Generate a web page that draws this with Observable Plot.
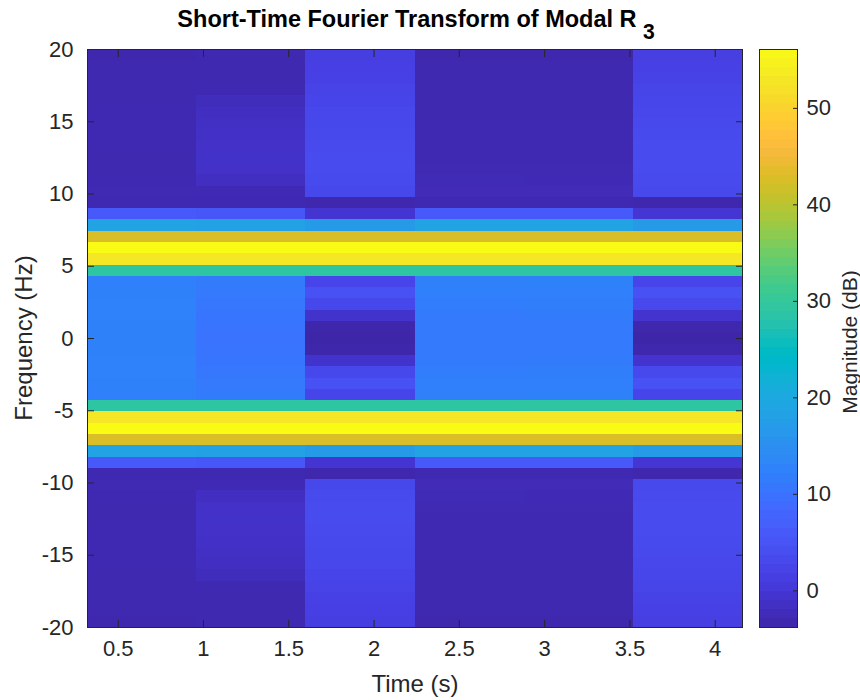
<!DOCTYPE html>
<html>
<head>
<meta charset="utf-8">
<script src="https://cdn.jsdelivr.net/npm/d3@7"></script>
<script src="https://cdn.jsdelivr.net/npm/@observablehq/plot@0.6"></script>
<style>
  body { margin: 0; background: #fff; font-family: "Liberation Sans", Arial, sans-serif; }
  #fig { position: relative; width: 860px; height: 700px; overflow: hidden; background: #fff; }
  #fig svg { position: absolute; top: 0; }
  .lbl { position: absolute; color: #262626; white-space: nowrap; line-height: 1; }
  .rot { transform: translate(-50%, -50%) rotate(-90deg); }
</style>
</head>
<body>
<div id="fig"></div>
<script>
// STFT frame centres (s) and frame hop; frequency bins (Hz) from +26 to -26 bin steps
const frameTimes = [0.64, 1.28, 1.92, 2.56, 3.20, 3.84];
const frameWidth = 0.64;
const binWidth = 0.78125;
const binHz = d3.range(26, -27, -1).map(k => k * binWidth);

// Magnitude (dB) per frame, listed from the top bin (+20.3 Hz) down to the bottom bin (-20.3 Hz)
const mag064 = [
  -3.3,-3.3,-3.2,-3.2,-3.1,-3.1,-3.0,-3.0,-3.0,-3.0,-3.1,-3.1,-3.0,-2.9,
  -3.0,
  6.0,18.6,42.5,56.1,53.0,29.0,
  12.0,12.4,12.6,12.5,12.4,12.3,12.4,12.5,12.6,12.4,12.0,
  29.0,53.0,56.1,42.5,18.6,6.0,
  -3.0,
  -2.9,-3.0,-3.1,-3.1,-3.0,-3.0,-3.0,-3.0,-3.1,-3.1,-3.2,-3.2,-3.3,-3.3
];
const mag128 = [
  -3.2,-3.2,-3.1,-3.1,-3.0,-2.2,-1.8,-1.6,-1.4,-1.2,-1.0,-1.2,-1.8,-2.8,
  -3.0,
  5.5,18.2,42.5,56.1,53.0,29.0,
  11.5,11.0,10.8,10.5,10.3,10.2,10.3,10.5,10.8,11.0,11.5,
  29.0,53.0,56.1,42.5,18.2,5.5,
  -3.0,
  -2.8,-1.8,-1.2,-1.0,-1.2,-1.4,-1.6,-1.8,-2.2,-3.0,-3.1,-3.1,-3.2,-3.2
];
const mag192 = [
  1.0,1.3,1.6,1.9,2.2,2.5,2.8,3.0,3.2,3.4,3.5,3.5,3.3,3.0,
  -3.4,
  -0.3,17.0,42.5,56.1,53.0,29.0,
  2.5,4.5,3.0,-0.8,-3.5,-3.8,-3.5,-0.8,3.0,4.5,2.5,
  29.0,53.0,56.1,42.5,17.0,-0.3,
  -3.4,
  3.0,3.3,3.5,3.5,3.4,3.2,3.0,2.8,2.5,2.2,1.9,1.6,1.3,1.0
];
const mag256 = [
  -3.3,-3.3,-3.2,-3.2,-3.2,-3.1,-3.1,-3.0,-3.0,-3.0,-3.0,-2.9,-2.7,-2.6,
  -3.0,
  6.0,18.6,42.5,56.1,53.0,29.0,
  12.2,12.0,11.6,11.3,11.2,11.1,11.2,11.3,11.6,12.0,12.2,
  29.0,53.0,56.1,42.5,18.6,6.0,
  -3.0,
  -2.6,-2.7,-2.9,-3.0,-3.0,-3.0,-3.0,-3.1,-3.1,-3.2,-3.2,-3.2,-3.3,-3.3
];
const mag320 = [
  -3.3,-3.3,-3.2,-3.2,-3.1,-3.1,-3.1,-3.0,-3.0,-3.0,-3.0,-2.9,-2.8,-2.6,
  -3.0,
  6.1,18.7,42.5,56.1,53.0,29.1,
  12.3,12.1,11.7,11.4,11.2,11.1,11.2,11.4,11.7,12.1,12.3,
  29.1,53.0,56.1,42.5,18.7,6.1,
  -3.0,
  -2.6,-2.8,-2.9,-3.0,-3.0,-3.0,-3.0,-3.1,-3.1,-3.1,-3.2,-3.2,-3.3,-3.3
];
const mag384 = [
  1.2,1.5,1.8,2.1,2.4,2.7,2.9,3.1,3.3,3.5,3.6,3.6,3.4,3.1,
  -3.4,
  -0.2,17.2,42.5,56.1,53.0,29.0,
  2.6,4.6,3.1,-0.7,-3.4,-3.7,-3.4,-0.7,3.1,4.6,2.6,
  29.0,53.0,56.1,42.5,17.2,-0.2,
  -3.4,
  3.1,3.4,3.6,3.6,3.5,3.3,3.1,2.9,2.7,2.4,2.1,1.8,1.5,1.2
];
const frames = [mag064, mag128, mag192, mag256, mag320, mag384];

// Axis ticks
const timeTicks = [0.5, 1, 1.5, 2, 2.5, 3, 3.5, 4];
const freqTicks = [-20, -15, -10, -5, 0, 5, 10, 15, 20];
const dbTicks = [0, 10, 20, 30, 40, 50];

// parula colormap (64 entries)
const parulaRGB = [
  [0.2422,0.1504,0.6603],[0.2504,0.1650,0.7076],[0.2578,0.1818,0.7511],[0.2647,0.1978,0.7952],
  [0.2706,0.2147,0.8364],[0.2751,0.2342,0.8710],[0.2783,0.2559,0.8991],[0.2803,0.2782,0.9221],
  [0.2813,0.3006,0.9414],[0.2810,0.3228,0.9579],[0.2795,0.3447,0.9717],[0.2760,0.3667,0.9829],
  [0.2699,0.3892,0.9906],[0.2602,0.4123,0.9952],[0.2440,0.4358,0.9988],[0.2206,0.4603,0.9973],
  [0.1963,0.4847,0.9892],[0.1834,0.5074,0.9798],[0.1786,0.5289,0.9682],[0.1764,0.5499,0.9520],
  [0.1687,0.5703,0.9359],[0.1540,0.5902,0.9218],[0.1460,0.6091,0.9079],[0.1380,0.6276,0.8973],
  [0.1248,0.6459,0.8883],[0.1113,0.6635,0.8763],[0.0952,0.6798,0.8598],[0.0689,0.6948,0.8394],
  [0.0297,0.7082,0.8163],[0.0036,0.7203,0.7917],[0.0067,0.7312,0.7660],[0.0433,0.7411,0.7394],
  [0.0964,0.7500,0.7120],[0.1408,0.7584,0.6842],[0.1717,0.7670,0.6554],[0.1938,0.7758,0.6251],
  [0.2161,0.7843,0.5923],[0.2470,0.7918,0.5567],[0.2906,0.7973,0.5188],[0.3406,0.8008,0.4789],
  [0.3909,0.8029,0.4354],[0.4456,0.8024,0.3909],[0.5044,0.7993,0.3480],[0.5616,0.7942,0.3045],
  [0.6174,0.7876,0.2612],[0.6720,0.7793,0.2227],[0.7242,0.7698,0.1910],[0.7738,0.7598,0.1646],
  [0.8203,0.7498,0.1535],[0.8634,0.7406,0.1596],[0.9035,0.7330,0.1774],[0.9393,0.7288,0.2100],
  [0.9728,0.7298,0.2394],[0.9956,0.7434,0.2371],[0.9970,0.7659,0.2199],[0.9952,0.7893,0.2028],
  [0.9892,0.8136,0.1885],[0.9786,0.8386,0.1766],[0.9676,0.8639,0.1643],[0.9610,0.8890,0.1537],
  [0.9597,0.9135,0.1423],[0.9628,0.9373,0.1265],[0.9691,0.9606,0.1064],[0.9769,0.9839,0.0805]
];
const parula = d3.piecewise(d3.interpolateRgb,
  parulaRGB.map(([r, g, b]) => d3.rgb(r * 255, g * 255, b * 255).formatHex()));

const cells = [];
frames.forEach((vals, j) => vals.forEach((v, i) => cells.push({t: frameTimes[j], f: binHz[i], v})));
const clim = d3.extent(cells, d => d.v);

const ink = "#262626";
const font = "'Liberation Sans', Arial, sans-serif";
const colorScale = {type: "linear", domain: clim, interpolate: parula};

// Spectrogram
const main = Plot.plot({
  width: 760, height: 700,
  marginLeft: 87, marginRight: 18, marginTop: 49, marginBottom: 73,
  style: {fontFamily: font, fontSize: "22px", color: ink, background: "transparent"},
  x: {domain: [0.32, 4.16]},
  y: {domain: [-20, 20]},
  color: colorScale,
  marks: [
    Plot.rect(cells, {
      x1: d => d.t - frameWidth / 2, x2: d => d.t + frameWidth / 2,
      y1: d => d.f - binWidth / 2, y2: d => d.f + binWidth / 2,
      fill: "v", clip: true, shapeRendering: "crispEdges"
    }),
    Plot.frame({stroke: ink, strokeWidth: 1}),
    Plot.axisX(timeTicks, {anchor: "bottom", tickSize: -7, tickPadding: 20, tickFormat: d => String(d), label: null, stroke: ink}),
    Plot.axisX(timeTicks, {anchor: "top", tickSize: -7, tickFormat: () => "", label: null, stroke: ink}),
    Plot.axisY(freqTicks, {anchor: "left", tickSize: -7, tickPadding: 21, tickFormat: d => String(d), label: null, stroke: ink}),
    Plot.axisY(freqTicks, {anchor: "right", tickSize: -7, tickFormat: () => "", label: null, stroke: ink})
  ]
});
main.style.left = "0px";

// Colorbar: 64 discrete colormap steps over the colour limits
const steps = d3.range(64).map(i => {
  const lo = clim[0] + (clim[1] - clim[0]) * i / 64;
  const hi = clim[0] + (clim[1] - clim[0]) * (i + 1) / 64;
  return {lo, hi, mid: (lo + hi) / 2};
});
const bar = Plot.plot({
  width: 120, height: 700,
  marginLeft: 19, marginRight: 63, marginTop: 49, marginBottom: 73,
  style: {fontFamily: font, fontSize: "22px", color: ink, background: "transparent"},
  x: {domain: [0, 1], axis: null},
  y: {domain: clim},
  color: colorScale,
  marks: [
    Plot.rect(steps, {x1: 0, x2: 1, y1: "lo", y2: "hi", fill: "mid", shapeRendering: "crispEdges"}),
    Plot.frame({stroke: ink, strokeWidth: 1}),
    Plot.axisY(dbTicks, {anchor: "right", tickSize: -5, tickPadding: 14, tickFormat: d => String(d), label: null, stroke: ink})
  ]
});
bar.style.left = "740px";

const fig = document.getElementById("fig");
fig.append(main, bar);

function label(html, x, y, css, rotate) {
  const el = document.createElement("div");
  el.className = "lbl" + (rotate ? " rot" : "");
  el.innerHTML = html;
  el.style.left = x + "px";
  el.style.top = y + "px";
  if (!rotate) el.style.transform = "translate(-50%, -50%)";
  Object.assign(el.style, css);
  fig.append(el);
}
label("Short-Time Fourier Transform of Modal R<span style=\"position:relative;top:0.55em;font-size:0.9em;margin-left:0.3em\">3</span>",
  416, 20, {fontWeight: "bold", fontSize: "23.5px", color: "#000"});
label("Time (s)", 415, 684, {fontSize: "24px"});
label("Frequency (Hz)", 24, 338, {fontSize: "24px"}, true);
label("Magnitude (dB)", 849, 342, {fontSize: "21px"}, true);
</script>
</body>
</html>
